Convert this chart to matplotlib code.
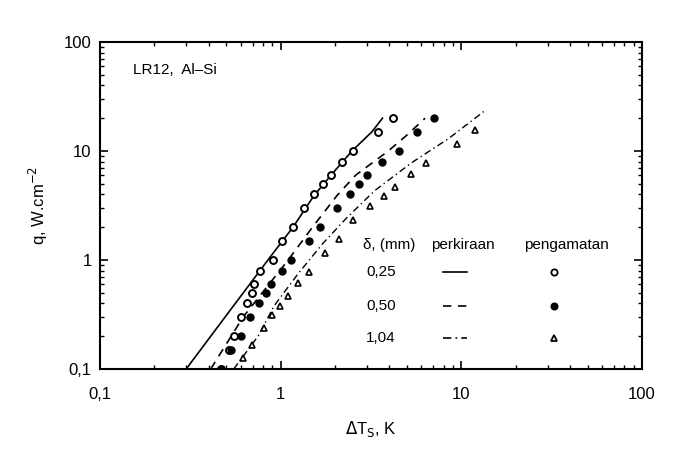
import matplotlib
matplotlib.use('Agg')
import matplotlib.pyplot as plt
from matplotlib.lines import Line2D
from matplotlib.ticker import FixedLocator, LogLocator, NullFormatter

plt.rcParams['font.family'] = ['Liberation Sans', 'DejaVu Sans']

# garis perkiraan (model) untuk tiap tebal delta
line_025_x = [0.30, 0.50, 0.85, 1.17, 1.53, 1.90, 2.48, 3.20, 3.66]
line_025_y = [0.10, 0.31, 1.0, 2.0, 3.9, 6.0, 10.0, 15.0, 20.0]
line_050_x = [0.41, 0.62, 1.10, 1.50, 2.05, 2.60, 3.94, 5.00, 6.30]
line_050_y = [0.10, 0.30, 1.0, 2.0, 3.9, 6.0, 10.0, 14.0, 20.0]
line_104_x = [0.55, 0.75, 0.92, 1.25, 1.70, 2.30, 3.30, 5.30, 8.50, 13.3]
line_104_y = [0.10, 0.20, 0.38, 0.75, 1.4, 2.4, 4.3, 7.8, 13.0, 23.0]

# titik pengamatan
obs_025_x = [4.16, 3.45, 2.50, 2.18, 1.90, 1.71, 1.53, 1.34, 1.17, 1.02,
             0.91, 0.77, 0.71, 0.69, 0.65, 0.60, 0.55, 0.52, 0.47]
obs_025_y = [20, 15, 10, 8, 6, 5, 4, 3, 2, 1.5,
             1.0, 0.8, 0.6, 0.5, 0.4, 0.3, 0.2, 0.15, 0.10]
obs_050_x = [7.07, 5.71, 4.49, 3.65, 3.02, 2.73, 2.42, 2.05, 1.65, 1.43,
             1.14, 1.02, 0.88, 0.83, 0.76, 0.68, 0.60, 0.53, 0.47]
obs_050_y = [20, 15, 10, 8, 6, 5, 4, 3, 2, 1.5,
             1.0, 0.8, 0.6, 0.5, 0.4, 0.3, 0.2, 0.15, 0.10]
obs_104_x = [11.9, 9.5, 6.36, 5.27, 4.29, 3.74, 3.13, 2.53, 2.09, 1.76,
             1.44, 1.25, 1.10, 0.99, 0.89, 0.81, 0.69, 0.62]
obs_104_y = [15.7, 11.7, 7.8, 6.1, 4.7, 3.9, 3.1, 2.33, 1.55, 1.15,
             0.78, 0.62, 0.47, 0.38, 0.31, 0.24, 0.166, 0.125]

tick_vals = [0.1, 1, 10, 100]
tick_labels = ["0,1", "1", "10", "100"]
deltas = ["0,25", "0,50", "1,04"]

dash = (0, (5, 4))
dashdot = (0, (5, 2.5, 1, 2.5))

fig = plt.figure(figsize=(6.73, 4.5), dpi=100)
ax = fig.add_axes([100/673, 1 - 369/450, 542/673, 327/450])

ax.plot(line_025_x, line_025_y, color='black', lw=1.2, ls='-')
ax.plot(line_050_x, line_050_y, color='black', lw=1.2, ls=dash)
ax.plot(line_104_x, line_104_y, color='black', lw=1.0, ls=dashdot)

ax.plot(obs_025_x, obs_025_y, 'o', mfc='white', mec='black', mew=1.4, ms=5, ls='none')
ax.plot(obs_050_x, obs_050_y, 'o', mfc='black', mec='black', ms=5, ls='none')
ax.plot(obs_104_x, obs_104_y, '^', mfc='white', mec='black', mew=1.2, ms=5, ls='none')

ax.set_xscale('log')
ax.set_yscale('log')
ax.set_xlim(0.1, 100)
ax.set_ylim(0.1, 100)

for axis in (ax.xaxis, ax.yaxis):
    axis.set_major_locator(FixedLocator(tick_vals))
    axis.set_minor_locator(LogLocator(base=10, subs=range(2, 10)))
    axis.set_minor_formatter(NullFormatter())
ax.set_xticklabels(tick_labels)
ax.set_yticklabels(tick_labels)
ax.tick_params(which='both', direction='in', top=True, right=True, labelsize=12)
ax.tick_params(which='major', length=6, width=1.2)
ax.tick_params(which='minor', length=3, width=1.0)
ax.tick_params(axis='x', which='major', pad=13)
ax.tick_params(axis='y', which='major', pad=6)
for s in ax.spines.values():
    s.set_linewidth(1.5)

ax.set_xlabel(r"$\Delta$T$_\mathrm{S}$, K", fontsize=12, labelpad=12)
ax.set_ylabel(r"q, W.cm$^{-2}$", fontsize=12, labelpad=10)

ax.text(0.061, 0.914, "LR12,  Al\u2013Si", transform=ax.transAxes, fontsize=11, va='center')

# tabel keterangan
ax.text(0.533, 0.379, "\u03b4, (mm)", transform=ax.transAxes, fontsize=11, ha='center', va='center')
ax.text(0.670, 0.379, "perkiraan", transform=ax.transAxes, fontsize=11, ha='center', va='center')
ax.text(0.860, 0.379, "pengamatan", transform=ax.transAxes, fontsize=11, ha='center', va='center')
rows_y = [0.297, 0.193, 0.095]
styles = ['-', dash, dashdot]
markers = [('o', 'white'), ('o', 'black'), ('^', 'white')]
for ry, lab, st, (mk, fc) in zip(rows_y, deltas, styles, markers):
    ax.text(0.518, ry, lab, transform=ax.transAxes, fontsize=11, ha='center', va='center')
    ax.add_line(Line2D([0.633, 0.677], [ry, ry], transform=ax.transAxes, color='black', lw=1.2, ls=st))
    ax.plot([0.838], [ry], marker=mk, mfc=fc, mec='black', mew=1.3, ms=4.5,
            transform=ax.transAxes, ls='none')

fig.savefig("out.png", dpi=100)
